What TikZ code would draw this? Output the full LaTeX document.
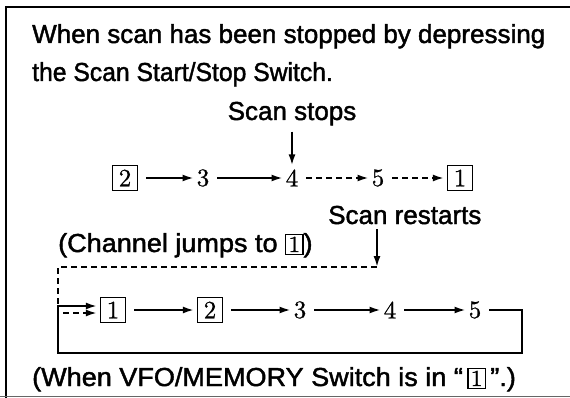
\documentclass[tikz,border=0pt]{standalone}
\usepackage{fontspec}
\usepackage{graphicx}
\newfontfamily\lbf{Liberation Sans}[FakeBold=1.6]
\newfontfamily\dgf{lmroman10-regular.otf}[FakeBold=0.8]
\usetikzlibrary{arrows.meta}
\newcommand{\bxd}[1]{{\setlength\fboxsep{2pt}\setlength\fboxrule{1.1pt}\fbox{\dgf\fontsize{23}{25}\selectfont #1}}}
\tikzset{
  lbl/.style={font=\lbf\fontsize{26}{30}\selectfont, inner sep=0pt},
  num/.style={font=\dgf\fontsize{25}{27}\selectfont, inner sep=0pt},
  bnum/.style={num, draw, line width=1.3pt, minimum width=25pt, minimum height=25pt},
  flow/.style={line width=1.9pt, -{Latex[length=11pt,width=7pt]}, shorten <=8pt, shorten >=3pt},
  dflow/.style={flow, dash pattern=on 6pt off 4pt},
  frame/.style={line width=1.3pt},
}
\begin{document}
\begin{tikzpicture}[x=1pt,y=-1pt]
\useasboundingbox (0,0) rectangle (570,398);
% frame
\draw[frame] (570,7) -- (6,7) -- (6,398);
\draw[line width=1pt, black!60] (0,396) -- (570,396);
% texts
\node[lbl, anchor=base west] (t1) at (32,43) {When scan has been stopped by depressing};
\node[lbl, anchor=base west] (t2) at (32,81) {\scalebox{0.95}[1]{the Scan Start/Stop Switch.}};
\node[lbl, anchor=base] (ss) at (292,120) {Scan stops};
\node[lbl, anchor=base west] (rs) at (328,224) {Scan restarts};
\node[lbl, anchor=base west] (cj) at (58,252) {\scalebox{1.04}[1]{(Channel jumps to \bxd{1})}};
\node[lbl, anchor=base west] (wv) at (32,386) {\scalebox{1.04}[1]{(When VFO/MEMORY Switch is in “\,\bxd{1}\,”.)}};
% row 1
\node[bnum] (a2) at (125,178) {2};
\node[num] (a3) at (203,178) {3};
\node[num] (a4) at (292,178) {4};
\node[num] (a5) at (378,178) {5};
\node[bnum] (a1) at (460,178) {1};
\draw[flow] (a2) -- (a3);
\draw[flow] (a3) -- (a4);
\draw[dflow] (a4) -- (a5);
\draw[dflow] (a5) -- (a1);
\draw[flow, shorten <=6pt, shorten >=4pt] (ss) -- (a4);
% row 2
\node[bnum] (b1) at (113,310) {1};
\node[bnum] (b2) at (210,310) {2};
\node[num] (b3) at (300,310) {3};
\node[num] (b4) at (390,310) {4};
\node[num] (b5) at (475,310) {5};
\draw[flow] (b1) -- (b2);
\draw[flow] (b2) -- (b3);
\draw[flow] (b3) -- (b4);
\draw[flow] (b4) -- (b5);
% restart
\coordinate (rt) at (377,267);
\coordinate (dl) at (58,267);
\draw[flow, shorten <=5pt, shorten >=0pt] (rs.south -| rt) -- (rt);
\draw[dflow, shorten <=0pt] (rt) -- (dl) |- ([yshift=-3pt]b1.west);
% loop
\coordinate (lr) at (522,353);
\coordinate (ll) at (58,353);
\draw[flow] (b5) -| (lr) -- (ll) |- ([yshift=4pt]b1.west);
\end{tikzpicture}
\end{document}
